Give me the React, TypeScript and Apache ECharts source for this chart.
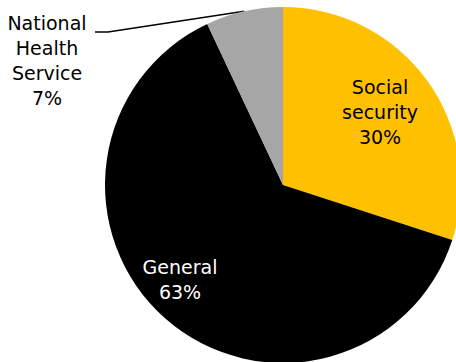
import React, { useEffect, useRef } from "react";
import * as echarts from "echarts";

const categories = ["Social\nsecurity", "General", "National\nHealth\nService"];
const values = [30, 63, 7];
const colors = ["#FFC000", "#000000", "#A6A6A6"];
const labelColors = ["#000000", "#FFFFFF", "#000000"];

export default function App() {
  const ref = useRef<HTMLDivElement>(null);
  useEffect(() => {
    document.body.style.margin = "0";
    const chart = echarts.init(ref.current!, null, { renderer: "svg" });
    const labelPos: Record<number, [number, number]> = { 0: [380, 112], 1: [180, 279], 2: [47, 10] };
    chart.setOption({
      animation: false,
      backgroundColor: "#FFFFFF",
      series: [
        {
          type: "pie",
          center: [283, 185],
          radius: 178,
          startAngle: 90,
          clockwise: true,
          avoidLabelOverlap: false,
          data: categories.map((name, i) => ({
            name,
            value: values[i],
            itemStyle: { color: colors[i], borderWidth: 0 },
            label: {
              position: i === 2 ? "outside" : "inside",
              color: labelColors[i],
            },
            labelLine: { show: i === 2, lineStyle: { color: "#000000", width: 1.6 } },
          })),
          label: {
            show: true,
            formatter: "{b}\n{c}%",
            fontFamily: "DejaVu Sans",
            fontSize: 19,
            lineHeight: 25,
            align: "center",
          },
          labelLine: { show: false },
          labelLayout: (p: any) => {
            const pos = labelPos[p.dataIndex];
            if (p.dataIndex === 2) {
              const start = p.labelLinePoints ? p.labelLinePoints[0] : [244, 11];
              return {
                x: pos[0],
                y: pos[1],
                align: "center",
                verticalAlign: "top",
                labelLinePoints: [start, [108, 32], [95, 32]],
              };
            }
            return { x: pos[0], y: pos[1], align: "center", verticalAlign: "middle" };
          },
        },
      ],
    });
    return () => chart.dispose();
  }, []);
  return <div ref={ref} style={{ width: 456, height: 362, position: "absolute", left: 0, top: 0 }} />;
}
